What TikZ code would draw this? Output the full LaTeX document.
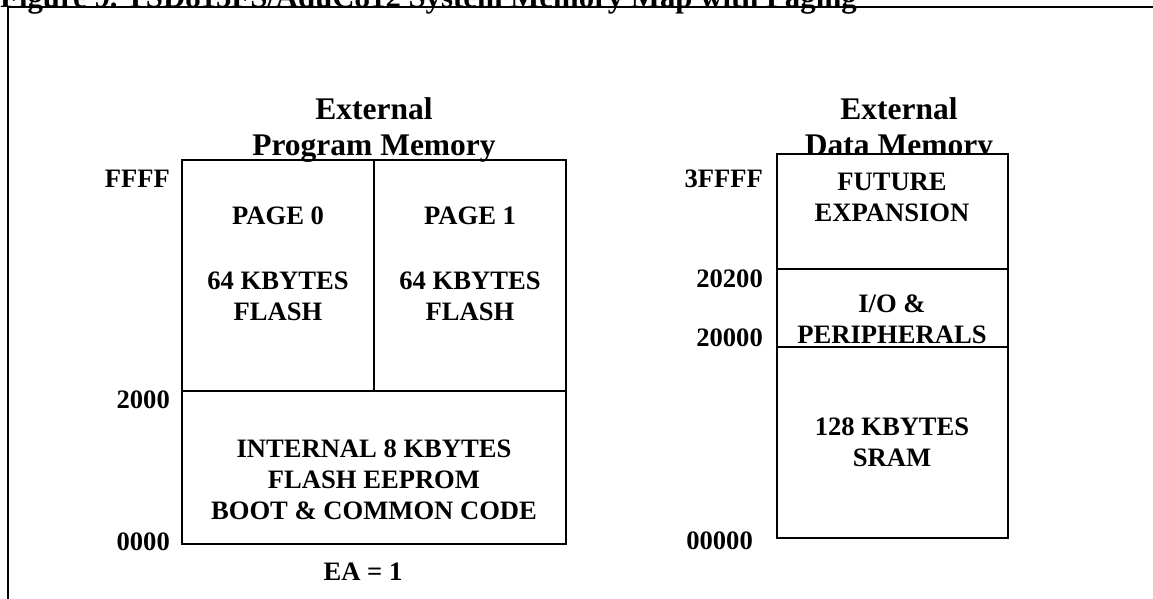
\documentclass[tikz,border=0pt]{standalone}
\usepackage{fontspec}
\setmainfont{Liberation Serif}
\begin{document}
\begin{tikzpicture}[x=1pt,y=-1pt,
  lbl/.style={font=\fontsize{26.6}{31}\selectfont\bfseries, inner sep=0pt, align=center, anchor=base},
  addr/.style={font=\fontsize{26.6}{31}\selectfont\bfseries, inner sep=0pt, anchor=base east},
  hd/.style={font=\fontsize{31.5}{36}\selectfont\bfseries, inner sep=0pt, align=center, anchor=base},
  ttl/.style={font=\fontsize{30.8}{36}\selectfont\bfseries, inner sep=0pt, anchor=base west},
  box/.style={draw=black, line width=1.6pt},
  frame/.style={draw=black, line width=1.6pt}]
\useasboundingbox (0,0) rectangle (1153,598);
% outer frame (top and left only visible)
\draw[frame] (8,620) -- (8,7) -- (1160,7);
% title
\node[ttl] (title) at (0,7) {Figure 9.\ TSD815FS/AduC812 System Memory Map with Paging};

% ---- left: external program memory
\draw[box] (182,160) rectangle (566,544);
\draw[box] (182,391) -- (566,391);
\draw[box] (374,160) -- (374,391);
\node[hd] (hl) at (374,155) {External\\Program Memory};
\node[lbl] (p0) at (278,224) {PAGE 0};
\node[lbl] (p1) at (470,224) {PAGE 1};
\node[lbl] (f0) at (278,320) {64 KBYTES\\FLASH};
\node[lbl] (f1) at (470,320) {64 KBYTES\\FLASH};
\node[lbl] (int) at (374,519) {INTERNAL 8 KBYTES\\FLASH EEPROM\\BOOT \& COMMON CODE};
\node[lbl] (ea) at (363,580) {EA = 1};
\node[addr] (aFFFF) at (170,187) {FFFF};
\node[addr] (a2000) at (170,408) {2000};
\node[addr] (a0000) at (170,550) {0000};

% ---- right: external data memory
\node[hd] (hr) at (899,155) {External\\Data Memory};
\draw[box, fill=white] (777,154) rectangle (1008,538);
\draw[box] (777,269) -- (1008,269);
\draw[box] (777,347) -- (1008,347);
\node[lbl] (fut) at (892,221) {FUTURE\\EXPANSION};
\node[lbl] (io) at (892,312) {I/O \&};
\node[lbl] (per) at (892,343) {PERIPHERALS};
\node[lbl] (sram) at (892,466) {128 KBYTES\\SRAM};
\node[addr] (a3FFFF) at (763,187) {3FFFF};
\node[addr] (a20200) at (763,287) {20200};
\node[addr] (a20000) at (763,346) {20000};
\node[addr] (a00000) at (753,549) {00000};
\end{tikzpicture}
\end{document}
